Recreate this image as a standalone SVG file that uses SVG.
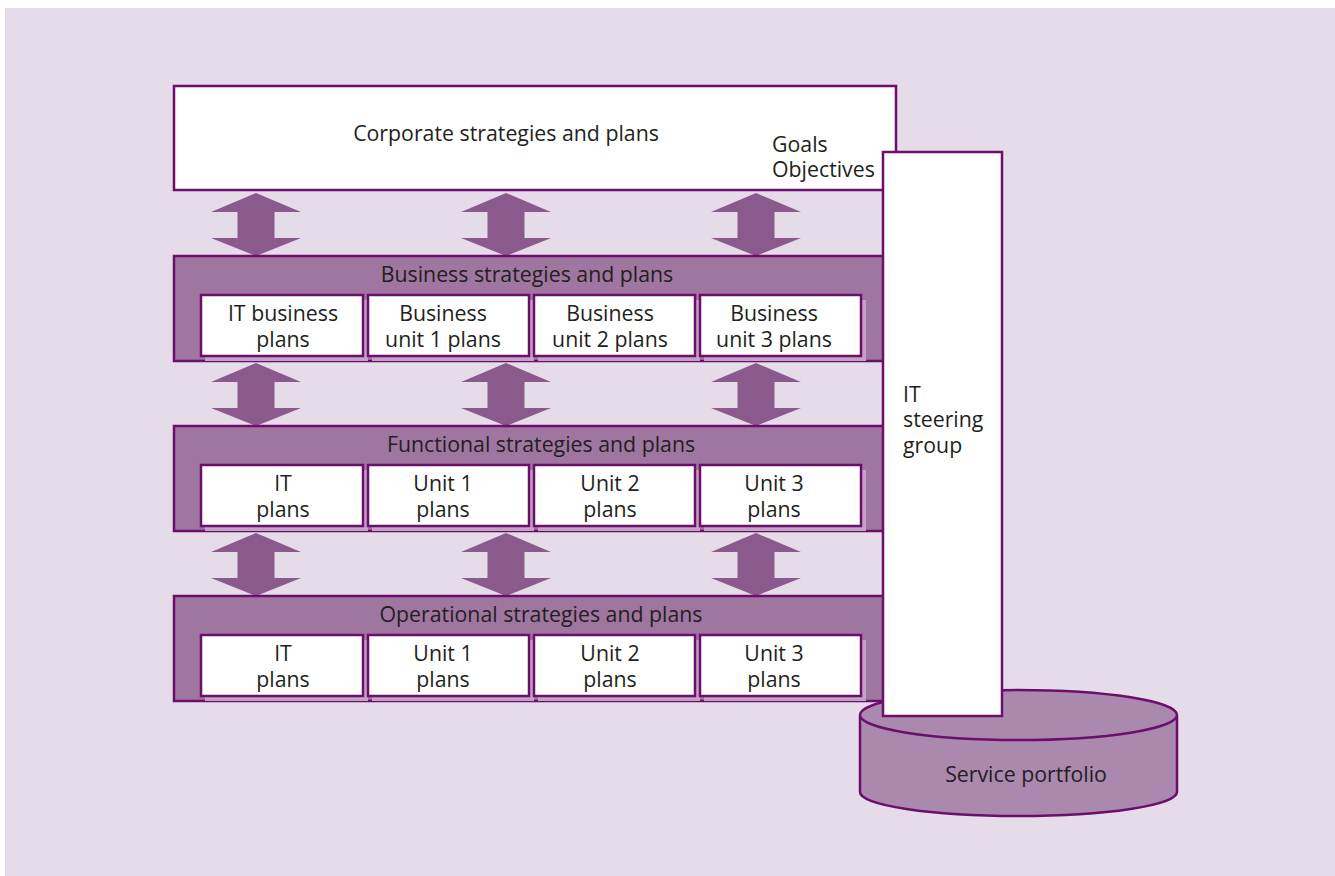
<svg xmlns="http://www.w3.org/2000/svg" width="1335" height="876" viewBox="0 0 1335 876">
<defs>
<style>
.bg{fill:#e6dbe9}
.box{fill:#ffffff;stroke:#6c0f6c;stroke-width:2.5}
.band{fill:#9f76a0;stroke:#6c0f6c;stroke-width:2.5}
.sh{fill:#c2a3c3}
.arr{fill:#8b5a8c}
.cyl{fill:#ab88ae;stroke:#6c0f6c;stroke-width:2.5}
text{font-family:"Open Sans","Liberation Sans",sans-serif;font-size:21.3px;fill:#231f20}
.c{text-anchor:middle}
</style>
<path id="arrow" d="M0,0 L45,19 L18.5,19 L18.5,45 L45,45 L0,63 L-45,45 L-18.5,45 L-18.5,19 L-45,19 Z"/>
</defs>
<rect x="0" y="0" width="1335" height="876" fill="#ffffff"/>
<rect class="bg" x="5" y="8" width="1330" height="868"/>

<g id="corporate">
<rect class="box" x="174" y="86" width="722" height="104"/>
<text class="c" x="506" y="141">Corporate strategies and plans</text>
<text x="772" y="152">Goals</text>
<text x="772" y="177">Objectives</text>
</g>

<g id="connectors">
<use href="#arrow" class="arr" x="256" y="193"/>
<use href="#arrow" class="arr" x="506" y="193"/>
<use href="#arrow" class="arr" x="756" y="193"/>
<use href="#arrow" class="arr" x="256" y="363"/>
<use href="#arrow" class="arr" x="506" y="363"/>
<use href="#arrow" class="arr" x="756" y="363"/>
<use href="#arrow" class="arr" x="256" y="533"/>
<use href="#arrow" class="arr" x="506" y="533"/>
<use href="#arrow" class="arr" x="756" y="533"/>
</g>

<g id="business">
<rect class="band" x="174" y="256" width="712" height="105"/>
<text class="c" x="527" y="282">Business strategies and plans</text>
<rect class="sh" x="205" y="300" width="163" height="61"/>
<rect class="sh" x="372" y="300" width="162" height="61"/>
<rect class="sh" x="538" y="300" width="162" height="61"/>
<rect class="sh" x="704" y="300" width="162" height="61"/>
<g id="b-it"><rect class="box" x="201" y="295" width="162" height="61"/><text class="c" x="283" y="321">IT business</text><text class="c" x="283" y="347">plans</text></g>
<g id="b-u1"><rect class="box" x="368" y="295" width="161" height="61"/><text class="c" x="443" y="321">Business</text><text class="c" x="443" y="347">unit 1 plans</text></g>
<g id="b-u2"><rect class="box" x="534" y="295" width="161" height="61"/><text class="c" x="610" y="321">Business</text><text class="c" x="610" y="347">unit 2 plans</text></g>
<g id="b-u3"><rect class="box" x="700" y="295" width="161" height="61"/><text class="c" x="774" y="321">Business</text><text class="c" x="774" y="347">unit 3 plans</text></g>
</g>

<g id="functional">
<rect class="band" x="174" y="426" width="712" height="105"/>
<text class="c" x="541" y="452">Functional strategies and plans</text>
<rect class="sh" x="205" y="470" width="163" height="61"/>
<rect class="sh" x="372" y="470" width="162" height="61"/>
<rect class="sh" x="538" y="470" width="162" height="61"/>
<rect class="sh" x="704" y="470" width="162" height="61"/>
<g id="f-it"><rect class="box" x="201" y="465" width="162" height="61"/><text class="c" x="283" y="491">IT</text><text class="c" x="283" y="517">plans</text></g>
<g id="f-u1"><rect class="box" x="368" y="465" width="161" height="61"/><text class="c" x="443" y="491">Unit 1</text><text class="c" x="443" y="517">plans</text></g>
<g id="f-u2"><rect class="box" x="534" y="465" width="161" height="61"/><text class="c" x="610" y="491">Unit 2</text><text class="c" x="610" y="517">plans</text></g>
<g id="f-u3"><rect class="box" x="700" y="465" width="161" height="61"/><text class="c" x="774" y="491">Unit 3</text><text class="c" x="774" y="517">plans</text></g>
</g>

<g id="operational">
<rect class="band" x="174" y="596" width="712" height="105"/>
<text class="c" x="541" y="622">Operational strategies and plans</text>
<rect class="sh" x="205" y="640" width="163" height="61"/>
<rect class="sh" x="372" y="640" width="162" height="61"/>
<rect class="sh" x="538" y="640" width="162" height="61"/>
<rect class="sh" x="704" y="640" width="162" height="61"/>
<g id="o-it"><rect class="box" x="201" y="635" width="162" height="61"/><text class="c" x="283" y="661">IT</text><text class="c" x="283" y="687">plans</text></g>
<g id="o-u1"><rect class="box" x="368" y="635" width="161" height="61"/><text class="c" x="443" y="661">Unit 1</text><text class="c" x="443" y="687">plans</text></g>
<g id="o-u2"><rect class="box" x="534" y="635" width="161" height="61"/><text class="c" x="610" y="661">Unit 2</text><text class="c" x="610" y="687">plans</text></g>
<g id="o-u3"><rect class="box" x="700" y="635" width="161" height="61"/><text class="c" x="774" y="661">Unit 3</text><text class="c" x="774" y="687">plans</text></g>
</g>

<g id="service-portfolio">
<path class="cyl" d="M860,716 L860,792 A158.5,24 0 0 0 1177,792 L1177,716"/>
<ellipse class="cyl" cx="1018.5" cy="715" rx="158.5" ry="25"/>
<text class="c" x="1026" y="782">Service portfolio</text>
</g>

<g id="it-steering-group">
<rect class="box" x="883" y="152" width="119" height="564"/>
<text x="903" y="402">IT</text>
<text x="903" y="427">steering</text>
<text x="903" y="453">group</text>
</g>
</svg>
